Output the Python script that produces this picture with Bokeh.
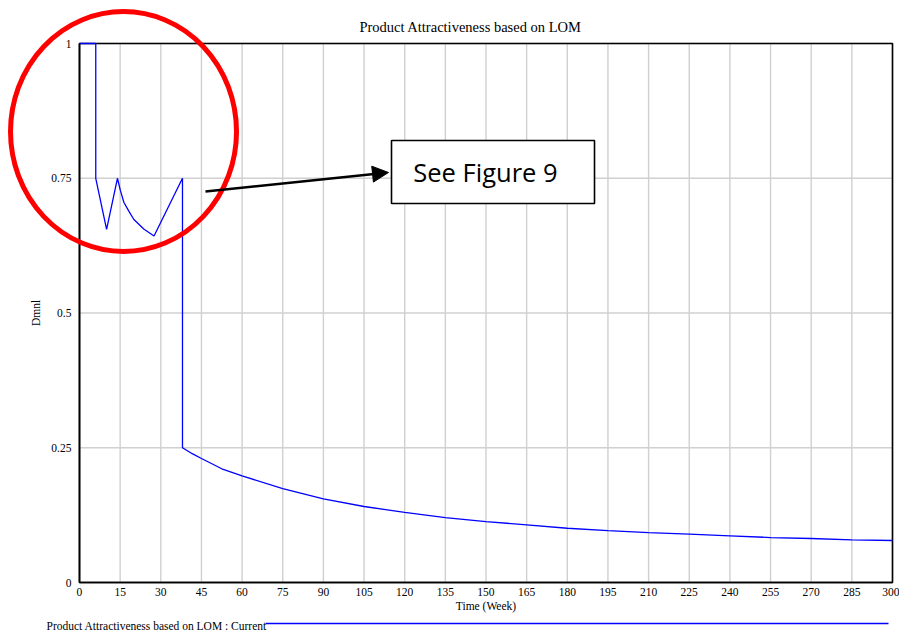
from bokeh.plotting import figure
from bokeh.models import Range1d, FixedTicker, Label, Arrow, NormalHead
from bokeh.embed import file_html
from bokeh.resources import INLINE

# ---- data ----
time_week = [0, 6, 6, 10, 14, 15.1, 16.4, 18.2, 20, 23.7, 27.5, 38, 38, 41.6, 45, 52.5, 60, 75,
             90, 105, 120, 135, 150, 165, 180, 195, 210, 225, 240, 255, 270, 285, 300]
attractiveness = [1, 1, 0.75, 0.655, 0.75, 0.727, 0.705, 0.689, 0.674, 0.656, 0.643, 0.75, 0.25,
                  0.239, 0.230, 0.211, 0.198, 0.174, 0.155, 0.141, 0.130, 0.1205, 0.113, 0.107,
                  0.1007, 0.0964, 0.0927, 0.0896, 0.0866, 0.0834, 0.0816, 0.0792, 0.0779]
x_ticks = list(range(0, 301, 15))
y_ticks = [0, 0.25, 0.5, 0.75, 1]
y_tick_labels = ["0", "0.25", "0.5", "0.75", "1"]
x_min, x_max = 0, 300
y_min, y_max = 0, 1

SERIF = "Liberation Serif"

# The frame covers the whole canvas so that the call-out circle and the legend row
# (which lie outside the data area) are not clipped; the axes sit at fixed locations.
p = figure(width=899, height=631, output_backend="svg", toolbar_location=None,
           x_range=Range1d(-29.151, 302.583), y_range=Range1d(-0.0909, 1.0798),
           min_border=0, outline_line_color=None)
p.grid.visible = False

# grid lines (drawn from the tick lists)
p.segment(x0=x_ticks, y0=[y_min] * len(x_ticks), x1=x_ticks, y1=[y_max] * len(x_ticks),
          line_color="#d0d0d0", line_width=1.4)
p.segment(x0=[x_min] * len(y_ticks), y0=y_ticks, x1=[x_max] * len(y_ticks), y1=y_ticks,
          line_color="#d0d0d0", line_width=1.4)
# plot frame
p.quad(left=[x_min], right=[x_max], bottom=[y_min], top=[y_max], fill_alpha=0,
       line_color="#000000", line_width=1.6)

# series
p.line(time_week, attractiveness, line_color="#0000ff", line_width=1.3)

# axes at fixed locations
p.xaxis.fixed_location = y_min
p.yaxis.fixed_location = x_min
p.xaxis.bounds = (x_min, x_max)
p.yaxis.bounds = (y_min, y_max)
p.xaxis.ticker = FixedTicker(ticks=x_ticks)
p.yaxis.ticker = FixedTicker(ticks=y_ticks)
p.yaxis.major_label_overrides = {t: s for t, s in zip(y_ticks, y_tick_labels)}
for ax in (p.xaxis, p.yaxis):
    ax.major_tick_out = 0
    ax.major_tick_in = 0
    ax.minor_tick_out = 0
    ax.minor_tick_in = 0
    ax.axis_line_color = "#000000"
    ax.axis_line_width = 1.6
    ax.major_label_text_font = SERIF
    ax.major_label_text_font_size = "11.5px"
    ax.major_label_text_color = "#000000"
    ax.axis_label_text_font = SERIF
    ax.axis_label_text_font_size = "11.5px"
    ax.axis_label_text_font_style = "normal"
    ax.axis_label_text_color = "#000000"
p.xaxis.axis_label = "Time (Week)"
p.yaxis.axis_label = "Dmnl"
p.xaxis.major_label_standoff = 5
p.xaxis.axis_label_standoff = 1
p.yaxis.major_label_standoff = 8
p.yaxis.axis_label_standoff = 6

# title
p.add_layout(Label(x=144.3, y=1.0315, text="Product Attractiveness based on LOM",
                   text_align="center", text_baseline="middle", text_font=SERIF,
                   text_font_size="14.5px", text_color="#000000"))

# ---- call-out annotations ----
p.ellipse(x=[16.24], y=[0.8367], width=[83.4], height=[0.4453], fill_alpha=0,
          line_color="#ff0000", line_width=5, level="overlay")
p.quad(left=[115.13], right=[190.04], bottom=[0.7032], top=[0.8200], fill_color="#ffffff",
       line_color="#000000", line_width=1.6, level="overlay")
p.add_layout(Label(x=149.8, y=0.7625, text="See Figure 9", text_align="center",
                   text_baseline="middle", text_font="Open Sans", text_font_size="25.5px",
                   text_color="#000000", level="overlay"))
p.add_layout(Arrow(x_start=46.49, y_start=0.7254, x_end=114.02, y_end=0.7607,
                   line_color="#000000", line_width=2.5, level="overlay",
                   end=NormalHead(size=16, fill_color="#000000", line_color="#000000")))

# legend row under the chart
p.add_layout(Label(x=-12.18, y=-0.0798, text="Product Attractiveness based on LOM : Current",
                   text_align="left", text_baseline="middle", text_font=SERIF,
                   text_font_size="11.5px", text_color="#000000"))
p.segment(x0=[68.63], y0=[-0.0761], x1=[298.52], y1=[-0.0761], line_color="#0000ff",
          line_width=1.5)

open("out.html", "w").write(file_html(p, INLINE))
